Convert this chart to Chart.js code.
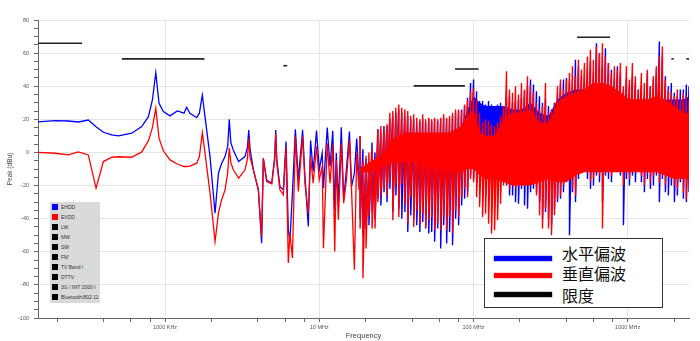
<!DOCTYPE html>
<html>
<head>
<meta charset="utf-8">
<script src="https://cdn.jsdelivr.net/npm/chart.js@4/dist/chart.umd.min.js"></script>
<style>
  body { margin: 0; background: #fff; }
  #wrap { position: relative; width: 700px; height: 341px; }
  #bandLegend { position: absolute; left: 50px; top: 202px; width: 50px; height: 101px; background: #d9d9d9; font-family: "Liberation Sans", Arial, sans-serif; }
  #bandLegend .row { position: absolute; left: 2px; height: 10px; }
  #bandLegend .sq { position: absolute; left: 0; top: 2px; width: 6px; height: 6px; }
  #bandLegend .txt { position: absolute; left: 9px; top: 0; font-size: 5px; line-height: 10px; color: #333; white-space: nowrap; }
  #polLegend { position: absolute; left: 484px; top: 238px; width: 179px; height: 70px; border: 1px solid #333; background: #fff; box-sizing: border-box; font-family: "Noto Sans CJK JP", sans-serif; }
  #polLegend .ln { position: absolute; left: 9px; width: 58px; height: 5px; }
  #polLegend .txt { position: absolute; left: 77px; font-size: 16px; line-height: 18px; color: #111; white-space: nowrap; }
</style>
</head>
<body>
<div id="wrap">
  <canvas id="chart" width="700" height="341"></canvas>
  <div id="bandLegend"></div>
  <div id="polLegend"></div>
</div>
<script>
// balayage basse fréquence (MHz) : courbes lisibles point par point
const lowFreqMHz = [0.15, 0.194, 0.236, 0.274, 0.318, 0.357, 0.398, 0.451, 0.5, 0.608, 0.706, 0.78, 0.828, 0.871, 0.914, 0.975,
  1.077, 1.2, 1.328, 1.38, 1.45, 1.604, 1.67, 1.745, 1.816, 1.958, 2.11, 2.22, 2.32, 2.45, 2.55, 2.61, 2.67, 2.77, 3.0, 3.3, 3.42, 3.49, 3.56, 3.74, 4.03,
  4.23, 4.34, 4.56, 4.92, 5.15, 5.22, 5.3, 5.56, 5.85, 6.09, 6.3, 6.45, 6.7, 7.0, 7.32, 7.8, 8.08, 8.49, 8.79, 9.13, 9.6, 10.0,
  10.45, 10.65, 11.27, 11.75, 12.24, 12.6, 12.9, 13.3, 13.9, 14.4, 15.0, 15.7, 16.2, 16.9, 17.5, 18.1];
const ehddLow = [18.5, 19.2, 19.0, 18.4, 19.6, 15.5, 12.2, 10.6, 10.0, 11.6, 15.6, 21.6, 31.7, 48.2, 29.7, 24.7,
  22.1, 25.1, 23.7, 27.3, 23.7, 21.0, 23.7, 34.7, 21.6, -2.5, -36.7, -12.5, -7, -2.5, 4, 20.0, 6, 1.5, -5.5, -2.5, 3, 13.6, 2, -10.5, -22.6,
  -54.8, -3.5, -16.6, -18.6, -2, 13.6, -4, -20.6, -22.6, 6.6, -46.7, -53.8, -24.6, 14.0, -16.6, 13.6, -14.6, -44.7, 7.2, -11.5, 13.2, -10.5,
  -0.4, -21.6, 15.0, -8.5, 13.0, -34.7, -0.4, -30.6, 15.2, -28.6, -10.5, 12.6, -20.6, -12.5, 8.4, -16.6];
const evddLow = [0, -0.5, -1.5, 0.3, -1.5, -21.6, -5.5, -2.9, -2.6, -2.9, 0.3, 7, 15, 26.7, 8.6, 1.0,
  -4.5, -7, -8.5, -8.5, -8.2, -6.5, -2.5, 12.0, -0.4, -24.6, -53.8, -36.7, -29, -22.6, -12, 2.6, -6, -10.5, -15.5, -10.5, -4, 8.6, -3, -10.5, -22.6,
  -50.8, -3.5, -17.6, -19, -4, 11.6, -6, -22.6, -25.6, 3.2, -66.8, -48.7, -63.8, 9.6, -23.6, 9.6, -18.6, -36.7, -2.5, -18.6, 3.5, -16.6,
  -8.5, -57.8, 5.6, -18.6, 4.6, -59.8, -4.5, -40.7, 5.6, -30.6, -16.6, 7.6, -22.6, -70.9, -0.4, -22.6];

// zone dense (MHz) : crête haute / crête basse de chaque pic
const denseFreqMHz = [18.4, 19.2, 20.1, 21.0, 22.0, 23.0, 24.0, 25.1, 26.3, 27.5, 28.7, 30.0, 31.4, 32.8, 34.3, 35.9, 37.5, 39.2, 41.0, 42.9,
  44.9, 46.9, 49.0, 51.3, 53.6, 56.0, 58.6, 61.3, 64.1, 67.0, 70.0, 73.2, 76.6, 80.1, 83.8, 87.6, 91.6, 95.8, 100.2, 104.8,
  109.6, 114.6, 119.8, 125.3, 131.0, 137.0, 143.3, 149.9, 156.7, 163.9, 171.4, 179.3, 187.5, 196.0, 205.0, 214.4, 224.2, 234.5, 245.2, 256.4,
  268.2, 280.4, 293.3, 306.7, 320.8, 335.4, 350.8, 366.9, 383.6, 401.2, 419.6, 438.8, 458.9, 479.9, 501.8, 524.8, 548.8, 574.0, 600.2, 627.7,
  656.4, 686.5, 717.9, 750.8, 785.1, 821.0, 858.6, 897.9, 939.0, 982.0, 1027, 1074, 1123, 1174, 1228, 1284, 1343, 1404, 1469, 1536,
  1606, 1680, 1757, 1837, 1921, 2009, 2101, 2197, 2298, 2403, 2500];
const evddMax = [10, -6, -2, 0, 2, -4, 14, 16, 14, 17, 24, 25, 27, 29, 27, 26, 25, 22, 23, 21,
  20, 23, 20, 21, 20, 21, 20, 21, 23, 21, 22, 24, 26, 26, 25, 29, 32, 37, 39, 32,
  24, 18, 20, 19, 17, 16, 18, 22, 28, 49, 38, 36, 40, 35, 42, 38, 46, 40, 36, 30,
  26, 28, 42, 24, 26, 30, 40, 44, 38, 44, 48, 52, 46, 56, 50, 54, 58, 62, 56, 64,
  60, 66, 58, 54, 48, 52, 50, 54, 40, 52, 44, 54, 46, 38, 48, 42, 50, 40, 46, 52,
  58, 64, 44, 38, 36, 34, 38, 32, 36, 34, 32];
const evddMin = [-46, -76, -58, -38, -46, -46, -30, -26, -22, -26, -18, -41, -20, -39, -19, -31, -43, -27, -45, -35,
  -43, -37, -45, -41, -39, -47, -43, -47, -39, -47, -39, -49, -35, -39, -27, -22, -27, -16, -18, -27,
  -33, -39, -37, -43, -49, -47, -41, -31, -20, -12, -22, -20, -22, -20, -14, -20, -12, -16, -18, -26,
  -38, -46, -34, -46, -50, -38, -28, -26, -20, -12, -16, -22, -26, -12, -2, -6, -12, -18, -16, -10,
  -14, -46, -10, -12, -14, -6, -2, -10, -20, -12, -16, -10, -12, -6, -14, -20, -12, -18, -14, -10,
  -18, -12, -20, -12, -16, -20, -22, -12, -24, -28, -20];
const ehddMax = [10, 2, -4, -8, 6, 0, 14, 12, 16, 16, 20, 22, 24, 26, 24, 22, 22, 20, 20, 18,
  19, 20, 18, 20, 19, 20, 19, 20, 21, 20, 20, 22, 24, 25, 26, 28, 33, 42, 44, 37,
  31, 31, 29, 31, 29, 28, 29, 30, 28, 34, 34, 30, 31, 32, 33, 37, 40, 44, 41, 37,
  34, 30, 32, 28, 26, 30, 36, 41, 44, 45, 43, 38, 56, 52, 46, 42, 50, 55, 48, 66,
  60, 52, 63, 54, 50, 44, 52, 48, 38, 45, 40, 46, 42, 38, 40, 34, 48, 40, 44, 50,
  67, 58, 46, 40, 42, 36, 34, 38, 38, 41, 40];
const ehddMin = [-40, -50, -46, -44, -36, -40, -28, -32, -24, -30, -22, -36, -26, -34, -40, -36, -48, -38, -40, -44,
  -48, -42, -46, -49, -48, -54, -46, -58, -44, -55, -48, -56, -40, -44, -32, -28, -24, -14, -16, -18,
  -16, -18, -12, -14, -20, -22, -18, -16, -12, -20, -26, -26, -30, -31, -22, -32, -34, -24, -22, -24,
  -30, -40, -36, -40, -44, -34, -30, -28, -24, -18, -50, -24, -30, -16, -8, -10, -16, -22, -20, -14,
  -18, -30, -14, -16, -18, -10, -8, -14, -44, -16, -20, -14, -18, -10, -18, -24, -16, -22, -20, -14,
  -30, -16, -24, -26, -20, -30, -26, -18, -28, -30, -24];

// zone dense : cœur plein (haut / bas) où les pics se recouvrent
const coreFreqMHz = [18.4, 22, 26.3, 30, 35.9, 41, 49, 58.6, 70, 83.8, 91.6, 100.2, 109.6, 120, 137, 157, 180, 205, 234.5,
  268, 306.7, 350.8, 400, 460, 525, 600, 690, 785, 900, 1027, 1174, 1343, 1536, 1757, 2009, 2300, 2500];
const evddCoreHi = [-10, -5, 0, 8, 12, 12, 12, 12, 12, 16, 22, 26, 12, 10, 10, 20, 24, 24, 26,
  18, 18, 30, 34, 36, 38, 42, 42, 40, 36, 32, 32, 32, 34, 32, 28, 24, 24];
const evddCoreLo = [-12, -12, -8, -6, -6, -6, -8, -10, -12, -12, -10, -10, -14, -16, -16, -18, -20, -20, -20,
  -18, -16, -18, -18, -14, -12, -12, -12, -12, -12, -12, -12, -12, -12, -14, -16, -16, -16];
const ehddCoreHi = [-10, -5, -2, 6, 10, 10, 10, 10, 11, 16, 26, 34, 30, 28, 28, 28, 26, 26, 30,
  24, 22, 32, 36, 38, 38, 42, 42, 40, 36, 32, 32, 32, 34, 32, 32, 32, 34];
const ehddCoreLo = [-9, -9, -5, -3, -3, -3, -5, -7, -9, -9, -7, -7, -11, -13, -13, -15, -17, -17, -17,
  -15, -13, -15, -15, -11, -9, -9, -9, -9, -9, -9, -9, -9, -9, -11, -13, -13, -13];

// lignes de limite (dBu)
const limitBands = ['LW', 'MW', 'SW', 'FM', 'TV Band I', 'DTTV', '3G / IMT 2000 I', 'Bluetooth/802.11'];
const limitStartMHz = [0.15, 0.525, 5.85, 76, 41, 470, 1920, 2400];
const limitStopMHz = [0.29, 1.8, 6.2, 108, 88, 770, 1990, 2500];
const limitLevel = [66, 56.5, 52.4, 50.4, 40.2, 69.6, 56.5, 56.5];

// axes
const xTickValues = [0.2, 0.4, 0.6, 0.8, 1, 2, 4, 6, 8, 10, 20, 40, 60, 80, 100, 200, 400, 600, 800, 1000, 2000];
const xTickLabels = { 1: '1000 KHz', 10: '10 MHz', 100: '100 MHz', 1000: '1000 MHz' };

const seriesNames = ['EHDD', 'EVDD'];
const polNames = ['水平偏波', '垂直偏波', '限度'];

const BLUE = '#0000ff', RED = '#ff0000', BLACK = '#000000';

function toPoints(freqs, vals) {
    return freqs.map((f, i) => ({ x: f, y: vals[i] }));
}
// chaque pic = trait vertical entre crête basse et crête haute
function toSpikes(freqs, maxs, mins) {
    const pts = [];
    freqs.forEach((f, i) => {
        pts.push({ x: f, y: maxs[i] });
        pts.push({ x: f, y: mins[i] });
    });
    return pts;
}

const datasets = [];
limitBands.forEach((band, i) => {
    datasets.push({
        label: band,
        data: [{ x: limitStartMHz[i], y: limitLevel[i] }, { x: limitStopMHz[i], y: limitLevel[i] }],
        borderColor: '#222', borderWidth: 1.6, pointRadius: 0, order: 0
    });
});
const seriesDefs = [
    [seriesNames[1], RED, evddLow, evddMax, evddMin, evddCoreHi, evddCoreLo, 1],
    [seriesNames[0], BLUE, ehddLow, ehddMax, ehddMin, ehddCoreHi, ehddCoreLo, 2]
];
seriesDefs.forEach(s => {
    const [name, color, low, max, min, coreHi, coreLo, ord] = s;
    datasets.push({ label: name, data: toPoints(lowFreqMHz, low), borderColor: color, borderWidth: 1.3, pointRadius: 0, order: ord });
    datasets.push({ label: name + ' pics', data: toSpikes(denseFreqMHz, max, min), borderColor: color, borderWidth: 1.4, pointRadius: 0, order: ord });
    datasets.push({ label: name + ' cœur', data: toPoints(coreFreqMHz, coreHi), borderColor: color, backgroundColor: color,
        borderWidth: 0, pointRadius: 0, fill: '+1', order: ord });
    datasets.push({ label: name + ' cœur bas', data: toPoints(coreFreqMHz, coreLo), borderColor: color,
        borderWidth: 0, pointRadius: 0, fill: false, order: ord });
});

const tickFont = { family: '"Liberation Sans", Arial, sans-serif', size: 5.5 };

new Chart(document.getElementById('chart').getContext('2d'), {
    type: 'line',
    data: { datasets: datasets },
    options: {
        responsive: false,
        animation: false,
        layout: { padding: { top: 20, right: 11, left: 0, bottom: 0 } },
        plugins: { legend: { display: false }, tooltip: { enabled: false } },
        elements: { line: { tension: 0 } },
        scales: {
            x: {
                type: 'logarithmic',
                min: 0.15, max: 2500,
                afterBuildTicks: s => { s.ticks = xTickValues.map(v => ({ value: v })); },
                afterFit: s => { s.height = 23; },
                ticks: {
                    autoSkip: false, maxRotation: 0, font: tickFont, color: '#555', padding: 2,
                    callback: v => xTickLabels[v] || ''
                },
                grid: {
                    color: c => (c.tick && xTickLabels[c.tick.value] ? '#e4e4e4' : 'rgba(0,0,0,0)'),
                    tickColor: '#666', tickLength: 4
                },
                border: { color: '#666' },
                title: { display: true, text: 'Frequency', color: '#444', padding: { top: 0, bottom: 1 },
                    font: { family: '"Liberation Sans", Arial, sans-serif', size: 7.5 } }
            },
            y: {
                min: -100, max: 80,
                afterFit: s => { s.width = 38; },
                ticks: {
                    stepSize: 5, autoSkip: false, font: tickFont, color: '#555', padding: 5,
                    callback: v => (v % 20 === 0 ? String(v) : '')
                },
                grid: {
                    color: c => (c.tick && c.tick.value % 20 === 0 ? '#e4e4e4' : 'rgba(0,0,0,0)'),
                    tickColor: '#666', tickLength: 4
                },
                border: { color: '#666' },
                title: { display: true, text: 'Peak (dBu)', color: '#444', padding: { top: 6, bottom: 0 },
                    font: { family: '"Liberation Sans", Arial, sans-serif', size: 6.5 } }
            }
        }
    }
});

// légende des bandes (en bas à gauche)
const bandLegend = document.getElementById('bandLegend');
const bandItems = seriesNames.concat(limitBands);
const bandColors = [BLUE, RED].concat(limitBands.map(() => BLACK));
bandItems.forEach((name, i) => {
    const row = document.createElement('div');
    row.className = 'row';
    row.style.top = (0 + i * 10) + 'px';
    row.innerHTML = `<div class="sq" style="background:${bandColors[i]}"></div><div class="txt">${name}</div>`;
    bandLegend.appendChild(row);
});

// légende polarisation (en bas à droite)
const polLegend = document.getElementById('polLegend');
const polColors = [BLUE, RED, BLACK];
const lineTops = [17, 34, 53];
const textTops = [5, 25, 47];
polNames.forEach((name, i) => {
    const ln = document.createElement('div');
    ln.className = 'ln';
    ln.style.top = lineTops[i] + 'px';
    ln.style.background = polColors[i];
    ln.style.boxShadow = `0 0 1.5px ${polColors[i]}`;
    polLegend.appendChild(ln);
    const txt = document.createElement('div');
    txt.className = 'txt';
    txt.style.top = textTops[i] + 'px';
    txt.textContent = name;
    polLegend.appendChild(txt);
});
</script>
</body>
</html>
